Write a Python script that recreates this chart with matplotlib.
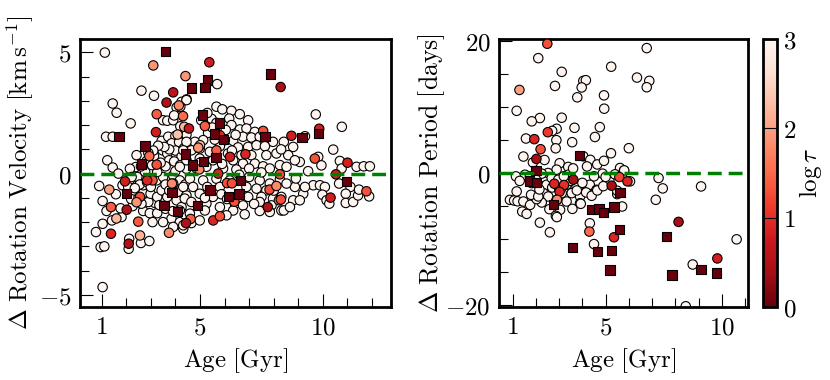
import matplotlib
matplotlib.use("Agg")
import matplotlib.pyplot as plt
import numpy as np
from matplotlib.ticker import MultipleLocator, FixedLocator, FixedFormatter

plt.rcParams['mathtext.fontset'] = 'cm'
plt.rcParams['font.size'] = 17

# ---------------- Left panel data: Delta rotation velocity ----------------
vel_white = [
    (1.13,4.99),(2.62,3.42),(3.13,3.21),(1.45,2.89),(1.61,2.51),(2.18,2.07),(1.18,1.52),(1.45,1.52),
    (1.23,0.55),(1.45,0.25),(1.68,0.0),(0.9,-0.51),(1.04,-1.13),(1.58,-0.85),(1.2,-1.54),(1.04,-2.07),
    (0.77,-2.41),(0.96,-3.03),(1.11,-3.0),(1.04,-4.68),(2.12,-2.69),(2.1,-3.1),(2.6,-2.86),(2.94,-2.78),
    (3.07,-2.0),(2.69,-1.54),(1.81,-1.79),(1.42,-1.93),(1.77,-1.43),(2.96,-1.63),(3.17,-1.21),(2.9,-1.17),
    (2.62,-1.24),(2.26,-1.34),(2.29,-0.83),(2.69,-0.8),(2.99,-0.83),(3.26,-0.96),(3.44,-0.69),(1.85,-0.48),
    (2.15,-0.25),(2.45,-0.14),(2.69,-0.48),(3.23,-0.28),(3.5,-0.14),(2.08,-0.55),(2.39,0.27),(2.42,0.76),
    (3.48,0.96),(3.67,0.83),(3.75,0.55),(3.5,2.2),(3.67,2.18),(3.91,2.2),(3.44,1.35),(3.71,1.52),
    (3.13,0.72),(2.83,0.52),(2.77,0.07),(3.26,0.07),(3.91,-0.07),(4.18,-0.28),(3.91,-0.41),(3.67,-0.96),
    (4.05,-1.1),(4.25,-1.38),(3.84,-1.86),(4.18,-2.0),(3.91,-2.2),(4.32,-2.27),(3.5,-2.0),(3.26,-1.63),
    (4.25,2.96),(4.05,2.73),(4.46,3.06),(3.95,2.4),(4.2,1.95),(4.45,1.6),(4.0,1.55),(3.85,1.25),
    (4.15,1.3),(4.35,1.05),(4.0,0.95),(4.25,0.7),(3.95,0.5),(4.2,0.35),(3.6,0.3),(3.4,0.45),
    (3.6,-0.45),(3.35,-1.3),(3.6,-1.45),(3.9,-1.55),(4.4,-1.7),(4.1,-0.75),(4.4,-0.45),(4.45,-0.9),
    (3.75,-0.7),(4.0,0.1),(4.45,0.2),(3.05,0.35),(2.6,0.3),(2.55,-0.45),(2.35,-0.6),(2.85,-0.35),
    (3.0,-0.55),(2.2,-1.05),(2.5,-1.0),(3.75,1.0),(3.55,1.1),(3.3,1.15),(3.1,0.95),(2.9,0.85),
    (2.15,0.2),(2.22,-0.14),
    (5.7,3.69),(4.45,3.03),(4.2,2.76),(5.67,2.76),(5.91,2.65),(6.28,2.59),(6.62,2.45),(6.96,2.2),
    (6.19,2.27),(6.28,2.0),(5.47,2.26),(5.67,2.09),(5.33,1.68),(6.62,1.82),(6.89,1.86),(7.23,1.72),
    (6.75,1.52),(7.09,1.49),(7.43,1.52),(7.97,1.31),(5.13,1.38),(4.79,1.31),(4.45,1.31),(6.35,1.35),
    (6.01,1.38),(5.81,1.13),(6.55,1.08),(6.96,1.1),(7.3,1.17),(7.64,1.13),(4.99,1.03),(4.65,0.96),
    (4.32,0.96),(5.4,0.9),(6.14,0.83),(6.69,0.76),(7.09,0.76),(7.7,0.76),(8.11,0.83),(4.45,0.55),
    (4.99,0.62),(5.53,0.55),(6.35,0.55),(6.75,0.41),(7.23,0.41),(7.57,0.3),(8.25,0.35),(4.18,0.28),
    (4.86,0.21),(5.26,0.28),(5.94,0.21),(6.48,0.17),(7.0,0.21),(7.84,0.21),(4.59,-0.21),(5.13,-0.28),
    (5.67,-0.21),(6.21,-0.28),(7.0,-0.14),(7.43,-0.28),(7.84,-0.41),(8.25,-0.25),(4.32,-0.55),(4.72,-0.55),
    (5.81,-0.55),(6.89,-0.55),(7.3,-0.62),(7.7,-0.69),(4.99,-0.83),(5.53,-0.96),(5.87,-0.85),(6.96,-0.96),
    (7.5,-0.96),(7.97,-1.03),(8.31,-0.96),(4.38,-1.03),(4.65,-1.17),(5.26,-1.24),(6.42,-1.24),(6.75,-1.31),
    (7.43,-1.17),(7.91,-1.31),(4.18,-1.52),(4.59,-1.65),(5.2,-1.52),(5.81,-1.38),(6.35,-1.52),(6.82,-1.68),
    (7.43,-1.54),(7.84,-1.58),(8.31,-1.52),(4.32,-2.13),(4.65,-2.04),(4.99,-1.93),(6.08,-1.72),
    (5.05,2.2),(5.3,2.5),(5.5,1.9),(6.05,1.8),(6.45,1.6),(5.9,0.4),(6.6,-0.05),(5.3,-0.55),
    (6.1,-1.05),(7.2,-1.25),(5.0,0.45),(5.6,1.4),(7.5,0.05),(8.0,-0.7),(6.3,0.95),(5.2,-1.0),
    (9.71,2.44),(10.77,1.93),(10.42,0.99),(8.41,1.31),(8.79,1.1),(9.06,0.48),(8.59,0.76),(8.86,0.55),
    (8.52,0.28),(9.81,0.69),(9.94,0.34),(10.69,0.52),(11.37,0.28),(11.66,0.3),(11.91,0.3),(10.76,0.21),
    (9.61,-0.48),(9.88,-0.48),(10.08,-0.55),(10.66,-0.41),(11.12,-0.55),(9.2,-0.83),(8.86,-0.55),
    (8.52,-0.41),(8.79,-1.1),(9.06,-1.1),(8.41,-1.52),(8.66,-1.38),(9.98,-0.87),(10.15,-1.1),(10.26,-1.24),
    (10.93,-0.83),(10.93,-1.21),(11.23,-1.17),(11.43,-0.9),(11.88,-0.94),(9.27,-0.55),(11.47,-0.66),
    (9.27,1.54),(8.3,1.0),(9.4,0.1),(8.9,-0.2),
]
vel_white_age = [p[0] for p in vel_white]
vel_white_dv = [p[1] for p in vel_white]
vel_white_logtau = [3.0] * len(vel_white)

vel_col_age = [5.38,3.1,4.41,8.28,3.91,3.64,4.14,3.24,4.31,4.36,3.21,4.55,5.2,4.09,7.57,8.72,9.85,5.81,
               5.0,2.94,6.22,6.85,9.67,11.0,3.24,4.97,5.74,8.25,1.95,3.07,2.85,3.86,1.31,6.1,6.3,7.83,
               8.11,11.77,10.31,2.56,8.21,7.76,1.38,2.02,2.42,4.62,5.54,5.81,4.43,2.49,3.74,2.56,1.38,
               2.1,6.4,1.6,10.53,8.29,5.67,4.93]
vel_col_dv = [4.59,4.46,4.02,3.57,3.35,2.93,2.81,2.45,2.37,1.93,1.71,1.86,1.96,1.61,1.76,1.56,1.85,1.58,
              1.17,0.72,0.69,0.8,0.62,0.45,0.37,0.17,0.0,-0.03,-0.32,-0.28,-0.28,-0.41,-0.66,-0.39,-0.4,
              -0.66,-0.51,-0.73,-0.99,-0.96,-1.1,-1.38,-1.38,-1.49,-1.18,-1.87,-1.93,-1.76,-2.04,-1.98,
              -2.44,-2.55,-2.48,-2.89,-1.16,-1.85,-0.03,-1.07,0.96,1.07]
vel_col_logtau = [0.8,1.9,1.9,0.4,0.6,0.5,1.8,1.4,1.5,2.2,0.8,0.7,1.4,2.3,1.3,0.8,0.8,1.0,
                  2.3,1.5,0.8,0.9,1.3,0.8,1.3,1.8,0.9,1.3,0.8,1.3,0.9,1.8,2.0,1.3,1.3,1.3,
                  1.8,1.3,0.8,1.3,1.8,0.5,1.4,0.5,1.9,1.4,0.9,1.3,0.5,1.4,1.8,2.2,0.9,
                  0.5,1.3,2.2,0.8,1.3,1.4,1.9]

vel_sq_age = [3.6,5.3,5.2,4.65,7.88,5.1,5.8,1.7,5.6,5.95,7.65,9.15,9.82,2.76,4.4,2.62,4.7,5.15,5.65,
              6.65,10.95,2.0,3.86,5.4,6.58,6.15,3.53,4.9,4.09]
vel_sq_dv = [5.03,3.86,3.54,3.53,4.1,2.42,2.09,1.54,1.63,1.4,1.52,1.49,1.65,1.13,0.8,0.39,0.36,0.51,0.66,
             -0.28,-0.33,-0.83,-0.79,-0.67,-0.84,-0.94,-1.31,-1.31,-1.56]
vel_sq_logtau = [0.0] * len(vel_sq_age)

# ---------------- Right panel data: Delta rotation period ----------------
per_white = [
    (6.77,18.98),(5.24,16.15),(3.11,15.37),(2.1,17.45),(6.35,14.5),(6.88,14.0),(6.77,13.03),(4.04,14.0),
    (4.15,14.1),(3.97,13.0),(3.78,11.5),(2.82,13.23),(4.93,11.8),(4.94,9.77),(1.17,9.45),(2.17,8.35),
    (1.82,7.85),(3.11,8.4),(2.89,6.72),(2.7,6.4),(3.66,6.87),(4.75,6.97),(4.54,5.47),(1.57,5.24),
    (2.88,4.99),(3.56,4.68),(2.85,3.75),(6.0,3.77),(5.23,3.0),(1.46,2.5),(2.37,1.98),(1.87,1.6),
    (3.02,1.48),(3.39,0.92),(2.89,0.51),(2.52,0.0),(4.04,2.54),(4.34,2.0),(4.64,1.3),(4.93,1.85),
    (5.62,0.76),(5.79,0.36),(6.05,-1.27),(7.28,-0.76),(7.46,-2.34),(7.16,-4.07),(9.11,-2.04),
    (10.64,-10.08),(8.75,-13.9),(8.45,-20.25),
    (1.14,-0.51),(1.53,-0.26),(0.88,-4.08),(1.06,-4.18),(1.21,-4.3),(1.46,-4.33),(1.41,-5.86),(1.6,-6.21),
    (1.17,-2.8),(1.82,-1.53),(2.25,-2.04),(2.46,-1.79),(2.32,-3.06),(2.53,-3.57),(2.25,-4.48),(2.89,-4.08),
    (3.11,-3.06),(3.32,-1.79),(3.75,-2.04),(3.54,-3.06),(3.9,-3.57),(4.18,-2.8),(4.32,-1.79),(4.61,-2.55),
    (3.32,-4.33),(3.9,-4.59),(3.57,-5.45),(3.04,-5.6),(2.58,-5.5),(2.17,-7.54),(2.6,-9.01),(4.32,-7.64),
    (4.5,-10.8),(1.75,-4.84),(2.03,-3.97),(2.68,-0.77),(2.96,-1.02),(3.39,-0.26),(1.74,-0.51),(1.79,-3.31),
    (2.1,-3.56),(2.86,-6.51),(2.9,-6.7),(3.93,-4.68),(3.76,-2.65),(4.16,-2.95),(4.4,-3.46),(4.64,-2.65),
    (4.87,-0.1),(5.71,-5.09),(5.5,-3.21),(5.16,-1.17),(2.25,-0.1),(2.0,-1.0),(2.15,-2.5),(2.7,-2.2),
    (3.0,-2.4),(3.5,-1.2),(4.0,-1.5),(4.5,-0.5),(5.0,-0.6),(5.4,-0.2),(5.7,-0.3),(5.8,0.4),
    (3.6,0.7),(3.2,-0.5),(4.2,1.0),(4.9,-2.0),(5.5,-2.7),(1.3,-1.2),
]
per_white_age = [p[0] for p in per_white]
per_white_dp = [p[1] for p in per_white]
per_white_logtau = [3.0] * len(per_white)

per_col_age = [2.49,1.29,2.51,1.93,2.2,2.02,3.61,2.79,3.21,3.02,2.91,5.26,5.59,5.94,4.3,5.36,8.14,9.81]
per_col_dp = [19.64,12.62,6.2,5.14,3.61,2.14,-1.02,-1.63,-1.83,-2.85,-4.07,-1.93,-0.61,-1.27,-8.9,-9.77,-7.43,-12.98]
per_col_logtau = [1.3,2.0,1.1,0.9,1.3,0.4,0.4,0.9,1.0,0.9,1.8,0.4,1.2,0.9,1.5,0.9,0.4,0.8]

per_sq_age = [3.87,2.0,1.72,2.03,2.76,4.39,4.72,4.9,5.36,5.62,5.59,7.63,3.58,4.64,5.26,5.19,7.86,9.1,9.77]
per_sq_dp = [2.65,0.36,-1.22,-1.48,-4.78,-5.55,-5.45,-6.0,-5.19,-2.95,-8.55,-9.62,-11.3,-11.96,-11.8,
             -14.76,-15.5,-14.7,-15.2]
per_sq_logtau = [0.0] * len(per_sq_age)

# ---------------- Figure ----------------
fig = plt.figure(figsize=(8.3, 3.8), dpi=100)
ax1 = fig.add_axes([80/830, 73/380, 311/830, 268/380])
ax2 = fig.add_axes([499/830, 73/380, 249/830, 268/380])
cax = fig.add_axes([763/830, 73/380, 14/830, 268/380])

cmap = plt.get_cmap('Reds_r')
kw = dict(cmap=cmap, vmin=0, vmax=3, edgecolors='k', linewidths=0.8)


def draw(ax, wx, wy, wc, cx, cy, cc, sx, sy, sc):
    ax.scatter(wx, wy, c=wc, marker='o', s=46, zorder=2, **kw)
    ax.scatter(cx, cy, c=cc, marker='o', s=46, zorder=3, **kw)
    sc_ = ax.scatter(sx, sy, c=sc, marker='s', s=46, zorder=4, **kw)
    ax.axhline(0, color='green', ls=(0, (4, 2)), lw=2.5, zorder=6)
    return sc_


sm = draw(ax1, vel_white_age, vel_white_dv, vel_white_logtau, vel_col_age, vel_col_dv, vel_col_logtau,
          vel_sq_age, vel_sq_dv, vel_sq_logtau)
draw(ax2, per_white_age, per_white_dp, per_white_logtau, per_col_age, per_col_dp, per_col_logtau,
     per_sq_age, per_sq_dp, per_sq_logtau)

ax1.set_xlim(0.12, 12.77)
ax1.set_ylim(-5.5, 5.55)
ax2.set_xlim(0.41, 11.13)
ax2.set_ylim(-20.36, 20.36)

xt = [1, 5, 10]
xtl = [r'$1$', r'$5$', r'$10$']
for ax in (ax1, ax2):
    ax.xaxis.set_major_locator(FixedLocator(xt))
    ax.xaxis.set_major_formatter(FixedFormatter(xtl))
    ax.xaxis.set_minor_locator(MultipleLocator(1))
    ax.tick_params(which='both', direction='in', top=False, right=False, width=0.8, labelsize=18, pad=6)
    ax.tick_params(which='major', length=9.5)
    ax.tick_params(which='minor', length=6.2)
    for sp in ax.spines.values():
        sp.set_linewidth(2.0)

ax1.yaxis.set_major_locator(FixedLocator([-5, 0, 5]))
ax1.yaxis.set_major_formatter(FixedFormatter([r'$-5$', r'$0$', r'$5$']))
ax1.yaxis.set_minor_locator(MultipleLocator(1))
ax2.yaxis.set_major_locator(FixedLocator([-20, 0, 20]))
ax2.yaxis.set_major_formatter(FixedFormatter([r'$-20$', r'$0$', r'$20$']))
ax2.yaxis.set_minor_locator(MultipleLocator(5))

ax1.set_xlabel(r'$\mathrm{Age\ [Gyr]}$', fontsize=18)
ax2.set_xlabel(r'$\mathrm{Age\ [Gyr]}$', fontsize=18)
ax1.set_ylabel(r'$\Delta\ \mathrm{Rotation\ Velocity\ [km\,s^{-1}]}$', fontsize=18)
ax2.set_ylabel(r'$\Delta\ \mathrm{Rotation\ Period\ [days]}$', fontsize=18.5)
ax1.xaxis.set_label_coords(0.5, -0.145)
ax2.xaxis.set_label_coords(0.5, -0.145)
ax1.yaxis.set_label_coords(-0.14, 0.5)
ax2.yaxis.set_label_coords(-0.21, 0.5)

cb = fig.colorbar(sm, cax=cax)
cb.set_ticks([0, 1, 2, 3])
cb.set_ticklabels([r'$0$', r'$1$', r'$2$', r'$3$'])
cb.outline.set_linewidth(2.0)
cax.tick_params(direction='in', length=10, width=0.8, labelsize=18, pad=4)
cb.set_label(r'$\log\tau$', fontsize=18)
cax.yaxis.set_label_coords(2.4, 0.5)

fig.savefig('out.png', dpi=100)
